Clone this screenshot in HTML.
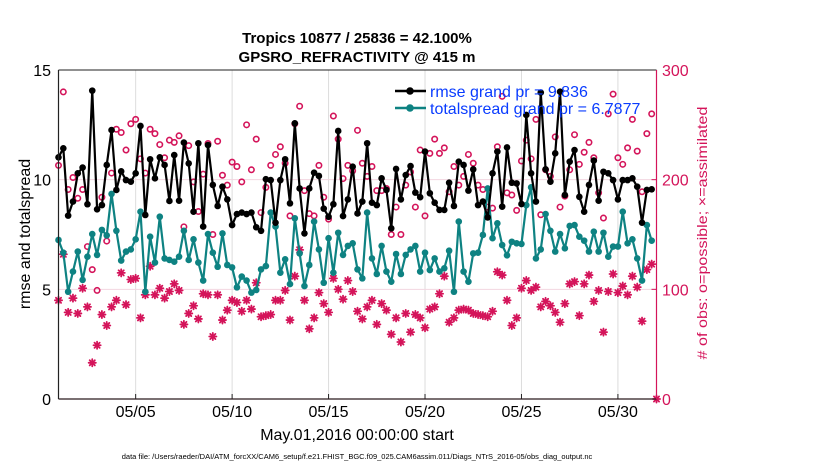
<!DOCTYPE html>
<html><head><meta charset="utf-8">
<style>
html,body{margin:0;padding:0;background:#fff;}
svg{display:block;font-family:"Liberation Sans",Arial,sans-serif;}
</style></head>
<body>
<svg id="chart" width="830" height="470" viewBox="0 0 830 470" xmlns="http://www.w3.org/2000/svg">
<text x="357" y="43" text-anchor="middle" font-size="15" font-weight="bold">Tropics 10877 / 25836 = 42.100%</text>
<text x="357" y="62" text-anchor="middle" font-size="15" font-weight="bold">GPSRO_REFRACTIVITY @ 415 m</text>
<g id="grid"></g>
<g id="marks"></g>
<g id="axes"></g>
<text transform="translate(30,234) rotate(-90)" text-anchor="middle" font-size="16">rmse and totalspread</text>
<text transform="translate(707,233) rotate(-90)" text-anchor="middle" font-size="14" textLength="253" lengthAdjust="spacingAndGlyphs" fill="#d4145a"># of obs: o=possible; ×=assimilated</text>
<text x="357" y="440" text-anchor="middle" font-size="16">May.01,2016 00:00:00 start</text>
<text x="357" y="459" text-anchor="middle" font-size="7.5">data file: /Users/raeder/DAI/ATM_forcXX/CAM6_setup/f.e21.FHIST_BGC.f09_025.CAM6assim.011/Diags_NTrS_2016-05/obs_diag_output.nc</text>
<g>
<line x1="395" y1="91" x2="426" y2="91" stroke="#000" stroke-width="2.5"/>
<circle cx="410" cy="91" r="3.8" fill="#000"/>
<text x="430" y="97" font-size="16" fill="#0a3cff">rmse grand pr = 9.836</text>
<line x1="395" y1="108" x2="426" y2="108" stroke="#0e8282" stroke-width="2.5"/>
<circle cx="410" cy="108" r="3.8" fill="#0e8282"/>
<text x="430" y="114" font-size="16" fill="#0a3cff">totalspread grand pr = 6.7877</text>
</g>
</svg>
<script>
const rmse=[11.02,11.43,8.36,9.0,10.29,10.55,8.88,14.06,8.65,8.84,10.67,12.26,9.53,10.38,9.98,9.91,10.29,12.45,8.39,10.93,10.06,11.02,10.67,9.03,11.12,9.04,11.69,10.74,8.54,11.66,7.86,11.58,
9.76,8.8,9.68,9.10,7.93,8.43,8.5,8.43,8.5,7.83,7.67,10.02,9.98,8.04,9.98,10.93,8.92,12.57,9.6,7.55,9.6,10.32,10.17,8.68,8.31,8.88,12.22,8.34,9.1,10.59,8.46,
9.0,11.66,8.95,8.84,10.06,9.53,7.78,10.49,9.1,10.21,10.62,9.41,9.2,11.28,9.38,8.95,8.62,8.62,9.86,8.8,10.82,10.67,9.5,10.47,8.84,9.0,8.28,10.29,11.28,8.77,11.47,
9.86,9.83,8.89,12.95,10.29,9.0,13.97,10.47,9.91,11.2,14.01,9.3,10.82,11.35,9.22,8.54,9.76,10.87,9.04,10.36,10.29,9.98,9.1,9.98,9.98,10.06,9.68,8.04,9.53,9.56];
const spread=[7.25,6.67,4.89,5.81,6.72,5.43,6.49,7.52,6.57,7.71,7.46,9.35,7.67,6.31,6.72,6.82,7.28,8.54,4.89,7.4,6.22,8.31,6.41,6.34,6.26,6.49,7.67,6.34,7.28,6.22,5.4,7.52,
6.67,6.03,7.55,6.11,6.0,5.09,5.58,5.4,4.85,4.97,5.91,6.06,8.5,7.86,5.76,6.37,5.24,8.24,6.64,5.15,6.11,8.09,6.82,5.3,7.33,5.76,7.58,6.57,6.98,7.1,5.91,
5.5,8.5,6.41,5.7,6.98,5.81,5.35,6.61,5.7,6.57,6.82,6.98,5.81,6.67,5.88,6.41,5.81,5.96,6.76,4.89,8.09,5.81,5.35,6.64,6.67,7.48,9.6,7.33,8.01,7.02,6.55,
7.17,7.1,7.07,8.84,9.65,6.41,6.82,8.43,7.67,6.72,7.52,6.87,7.89,7.93,7.4,7.22,6.72,7.63,6.72,7.58,6.49,6.95,6.95,8.54,7.1,7.28,6.41,5.4,7.93,7.22];
const nposs=[213,280,191,202,183,191,139,118,99,184,144,206,246,243,227,251,255,219,206,246,242,232,220,236,234,240,157,231,198,171,205,233,
150,235,204,195,216,212,198,250,209,237,170,193,213,223,230,215,167,251,267,190,169,167,213,184,164,258,237,201,213,208,245,
215,203,212,190,190,192,150,175,150,195,207,175,227,167,224,237,224,229,189,212,195,203,223,215,195,191,175,174,230,276,188,
186,172,217,236,219,255,168,209,203,239,175,185,209,241,214,225,234,220,188,165,260,278,220,214,229,255,226,189,242,260];
const nused=[90,132,79,92,78,101,84,33,49,77,67,84,90,115,86,109,110,74,95,121,95,101,92,98,105,99,68,78,85,73,96,95,
57,95,72,81,90,88,80,90,82,106,75,76,77,90,90,99,72,112,136,90,64,74,97,87,79,110,100,91,108,98,80,
73,84,90,68,87,81,59,74,52,78,61,77,74,65,82,84,96,112,70,74,81,82,81,78,77,76,75,80,116,113,90,
67,74,101,108,99,102,84,89,85,79,70,87,105,107,76,105,113,89,99,61,98,114,97,103,95,112,102,71,118,123];
const xTickDays=[5,10,15,20,25,30];
const xTickLabels=["05/05","05/10","05/15","05/20","05/25","05/30"];
const yLeftTicks=[0,5,10,15];
const yRightTicks=[0,100,200,300];

const X0=58.5,X1=656.5,Y0=399,Y1=70,NDAYS=31;
const xs=d=>X0+(d-1)/NDAYS*(X1-X0);
const xi=i=>xs(1+i*0.25);
const yl=v=>Y0-v/15*(Y0-Y1);
const yr=v=>Y0-v/300*(Y0-Y1);
const NS="http://www.w3.org/2000/svg";
function mk(tag,attrs,parent){const e=document.createElementNS(NS,tag);for(const k in attrs)e.setAttribute(k,attrs[k]);parent.appendChild(e);return e;}
const grid=document.getElementById('grid'),marks=document.getElementById('marks'),axes=document.getElementById('axes');
const PINK="#d4145a";

xTickDays.forEach((d,k)=>{
  const g=mk('line',{x1:xs(d),x2:xs(d),y1:Y1,y2:Y0,stroke:'#dcdcdc','stroke-width':1},grid);
  
  
  const t=mk('line',{x1:xs(d),x2:xs(d),y1:Y0,y2:Y0-5,stroke:'#222','stroke-width':1},axes);
  
  
  const tx=mk('text',{x:xs(d),y:417,'text-anchor':'middle','font-size':16},axes);
  tx.textContent=xTickLabels[k];
  
  
});
yLeftTicks.forEach(v=>{
  if(v>0&&v<15){
    const g=mk('line',{x1:X0,x2:X1,y1:yl(v),y2:yl(v),stroke:'#f3d6e0','stroke-width':1},grid);
    
    
  }
  const tx=mk('text',{x:51,y:yl(v)+6,'text-anchor':'end','font-size':16},axes);
  tx.textContent=v;
  
  
});
yRightTicks.forEach(v=>{
  const t=mk('line',{x1:X1-5,x2:X1,y1:yr(v),y2:yr(v),stroke:PINK,'stroke-width':1},axes);
  
  
  const tx=mk('text',{x:662,y:yr(v)+6,'font-size':16,fill:PINK},axes);
  tx.textContent=v;
  
  
});
let a;
a=mk('line',{x1:X0,x2:X1,y1:Y1,y2:Y1,stroke:'#222','stroke-width':1},axes);


a=mk('line',{x1:X0,x2:X1,y1:Y0,y2:Y0,stroke:'#2a1a1e','stroke-width':1.2},axes);


a=mk('line',{x1:X0,x2:X0,y1:Y1,y2:Y0,stroke:'#222','stroke-width':1.2},axes);


a=mk('line',{x1:X1,x2:X1,y1:Y1,y2:Y0,stroke:PINK,'stroke-width':1.2},axes);



nposs.forEach((v,i)=>{
  const c=mk('circle',{cx:xi(i),cy:yr(v),r:2.7,fill:'none',stroke:PINK,'stroke-width':1.6},marks);
  
  
});
function star(x,y){
  const g=mk('g',{stroke:PINK,'stroke-width':1.8,'stroke-linecap':'round'},marks);
  const r=3.6;
  mk('line',{x1:x-r,x2:x+r,y1:y,y2:y},g);
  mk('line',{x1:x,x2:x,y1:y-r,y2:y+r},g);
  mk('line',{x1:x-r*0.72,x2:x+r*0.72,y1:y-r*0.72,y2:y+r*0.72},g);
  mk('line',{x1:x-r*0.72,x2:x+r*0.72,y1:y+r*0.72,y2:y-r*0.72},g);
  return g;
}
nused.forEach((v,i)=>{
  const s=star(xi(i),yr(v));
  
  
});
const corner=star(X1,Y0);



function series(arr,color,name){
  const p=mk('polyline',{points:arr.map((v,i)=>xi(i)+','+yl(v)).join(' '),fill:'none',stroke:color,'stroke-width':2.2,'stroke-linejoin':'round'},marks);
  
  
  arr.forEach((v,i)=>{
    const c=mk('circle',{cx:xi(i),cy:yl(v),r:3.3,fill:color},marks);
    
    
  });
}
series(spread,'#0e8282','totalspread');
series(rmse,'#000000','rmse');
</script>
</body></html>
